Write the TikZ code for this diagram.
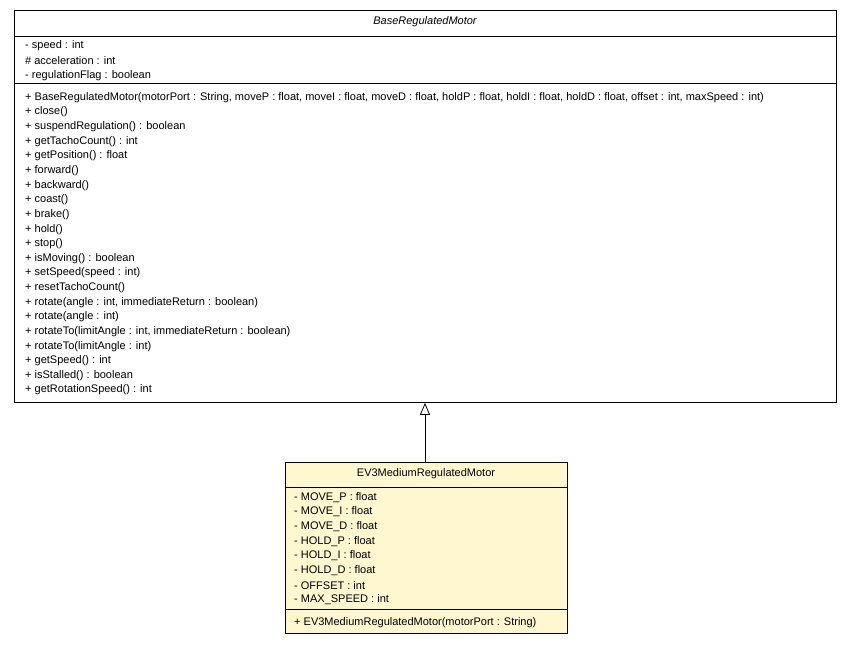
\documentclass[tikz,border=0pt]{standalone}
\usepackage{fontspec}
\setmainfont{Liberation Sans}
\usetikzlibrary{arrows.meta}
\definecolor{cls}{HTML}{FFF7D0}
\tikzset{txt/.style={anchor=west,inner sep=0pt,font=\fontsize{11}{12}\selectfont},
 box/.style={draw,line width=0.8pt}}
\begin{document}
\begin{tikzpicture}[x=1pt,y=-1pt]
\useasboundingbox (0,0) rectangle (851,645);
\fill[white] (0,0) rectangle (851,645);
% base
\node[box,minimum width=822pt,minimum height=392pt,anchor=north west] (base) at (14,10) {};
\draw (14,36) -- (836,36);
\draw (14,83) -- (836,83);
\node[inner sep=0pt,font=\fontsize{11}{12}\selectfont\itshape] (bt) at (425,22) {BaseRegulatedMotor};
\foreach \t [count=\i from 0] in {- speed : int,\# acceleration : int,- regulationFlag : boolean}
  \node[txt] (ba\i) at (25,46+14.6*\i) {\t};
\foreach \t [count=\i from 0] in {{+ BaseRegulatedMotor(motorPort : String, moveP : float, moveI : float, moveD : float, holdP : float, holdI : float, holdD : float, offset : int, maxSpeed : int)},
 + close(),+ suspendRegulation() : boolean,+ getTachoCount() : int,+ getPosition() : float,+ forward(),+ backward(),+ coast(),+ brake(),+ hold(),+ stop(),+ isMoving() : boolean,+ setSpeed(speed : int),+ resetTachoCount(),{+ rotate(angle : int, immediateReturn : boolean)},+ rotate(angle : int),{+ rotateTo(limitAngle : int, immediateReturn : boolean)},+ rotateTo(limitAngle : int),+ getSpeed() : int,+ isStalled() : boolean,+ getRotationSpeed() : int}
  \node[txt] (bm\i) at (25,97.5+14.63*\i) {\t};
% child
\node[box,fill=cls,minimum width=282pt,minimum height=171pt,anchor=north west] (ev) at (285,462) {};
\draw (285,487) -- (567,487);
\draw (285,609) -- (567,609);
\node[inner sep=0pt,font=\fontsize{11}{12}\selectfont] (et) at (426,474) {EV3MediumRegulatedMotor};
\foreach \t [count=\i from 0] in {- MOVE\_P : float,- MOVE\_I : float,- MOVE\_D : float,- HOLD\_P : float,- HOLD\_I : float,- HOLD\_D : float,- OFFSET : int,- MAX\_SPEED : int}
  \node[txt] (ea\i) at (294,497.5+14.6*\i) {\t};
\node[txt] (em) at (294,623) {+ EV3MediumRegulatedMotor(motorPort : String)};
\draw[line width=0.8pt,-{Triangle[open,width=10pt,length=12pt,fill=white]}] (ev.north -| 425,0) -- (base.south -| 425,0);
\end{tikzpicture}
\end{document}
